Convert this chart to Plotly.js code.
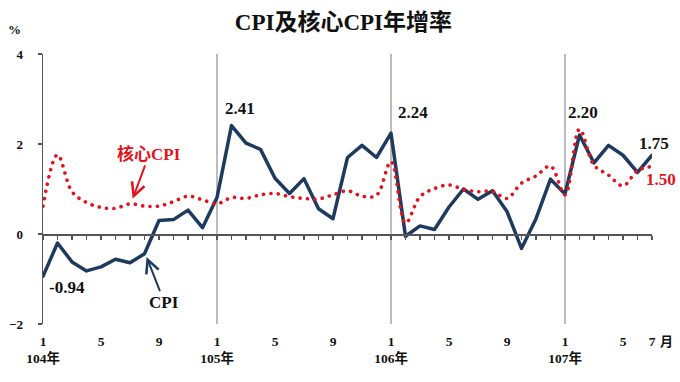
<!DOCTYPE html>
<html>
<head>
<meta charset="utf-8">
<script src="https://cdn.plot.ly/plotly-3.0.1.min.js"></script>
<style>
html,body{margin:0;padding:0;background:#fff;}
#chart{width:680px;height:382px;}
</style>
</head>
<body>
<div id="chart"></div>
<script>
// ---- data ----
const monthIndex = [...Array(43).keys()];
const tickPos = [0,4,8,12,16,20,24,28,32,36,40,42];
const tickLabels = ["1<br>104年","5","9","1<br>105年","5","9","1<br>106年","5","9","1<br>107年","5","7"];
const yearStarts = [12,24,36];
const cpi = [-0.94,-0.20,-0.62,-0.82,-0.73,-0.56,-0.64,-0.44,0.30,0.32,0.53,0.14,
             0.81,2.41,2.02,1.88,1.24,0.90,1.23,0.56,0.34,1.70,1.97,1.70,
             2.24,-0.05,0.18,0.10,0.60,1.00,0.77,0.96,0.50,-0.32,0.34,1.22,
             0.89,2.20,1.58,1.97,1.75,1.37,1.75];
const core = [0.62,1.76,0.94,0.70,0.59,0.57,0.67,0.62,0.62,0.72,0.84,0.76,
              0.67,0.81,0.79,0.87,0.90,0.83,0.79,0.78,0.87,0.96,0.84,0.86,
              1.61,0.24,0.83,1.01,1.09,0.99,0.94,0.95,0.79,1.13,1.29,1.51,
              0.87,2.33,1.53,1.31,1.07,1.41,1.50];

const NAVY = '#1f3a5f';
const RED = '#e4131b';
const SERIF = '"Liberation Serif", "Times New Roman", "Noto Sans CJK TC", serif';

const traces = [
  {x: monthIndex, y: cpi, type:'scatter', mode:'lines', xaxis:'x', yaxis:'y',
   line:{color:NAVY, width:3.5}, hoverinfo:'skip', showlegend:false},
  {x: monthIndex, y: core, type:'scatter', mode:'lines', xaxis:'x2', yaxis:'y',
   line:{color:RED, width:3.6, dash:'0.1px,7.3px', shape:'spline', smoothing:1}, hoverinfo:'skip', showlegend:false}
];

const labelFont = {family:SERIF, size:17, color:'#111', weight:'bold'};
function valAnn(x, y, v, color, ref){
  return {x:x, y:y, xref:ref||'x', yref:ref||'y', text:v.toFixed(2), showarrow:false,
          font:Object.assign({}, labelFont, color?{color:color}:{}), xanchor:'center', yanchor:'middle'};
}

const annotations = [
  valAnn(13.6, 2.78, cpi[13]),
  valAnn(25.5, 2.69, cpi[24]),
  valAnn(37.25, 2.69, cpi[37]),
  valAnn(1.0033, 0.670, cpi[42], null, 'paper'),
  valAnn(1.0148, 0.537, core[42], RED, 'paper'),
  valAnn(1.68, -1.18, cpi[0]),
  {x:7.12, y:-0.49, xref:'x', yref:'y', text:'CPI', showarrow:true, ax:18, ay:46,
   arrowhead:5, arrowsize:1.3, arrowwidth:2, arrowcolor:NAVY, standoff:1,
   font:{family:SERIF, size:17, color:'#111', weight:'bold'}},
  {x:6.16, y:0.76, xref:'x', yref:'y', text:'核心CPI', showarrow:true, ax:17, ay:-46,
   arrowhead:5, arrowsize:1.3, arrowwidth:2, arrowcolor:RED, standoff:1,
   font:{family:SERIF, size:17, color:RED, weight:'bold'}},
  {x:-0.046, y:1.089, xref:'paper', yref:'paper', text:'%', showarrow:false,
   xanchor:'center', yanchor:'middle',
   font:{family:SERIF, size:13, color:'#111', weight:'bold'}},
  {x:1.0246, y:-0.063, xref:'paper', yref:'paper', text:'月', showarrow:false,
   xanchor:'center', yanchor:'middle',
   font:{family:SERIF, size:13, color:'#111', weight:'bold'}}
];

const shapes = yearStarts.map(m => ({type:'line', xref:'x', yref:'paper', x0:m, x1:m, y0:0, y1:1,
  line:{color:'#a6a6a6', width:1.5}, layer:'below'}));

const layout = {
  width:680, height:382,
  margin:{l:43, r:28, t:54, b:58},
  paper_bgcolor:'#fff', plot_bgcolor:'#fff',
  title:{text:'CPI及核心CPI年增率', x:0.505, xref:'container', y:0.942, yref:'container', yanchor:'middle',
         font:{family:SERIF, size:23, color:'#111', weight:'bold'}},
  xaxis:{range:[0,42], tickvals:tickPos, ticktext:tickLabels, ticks:'', showline:false,
         showgrid:false, zeroline:false, ticklabelstandoff:7,
         tickfont:{family:SERIF, size:13.5, color:'#111', weight:'bold'}},
  xaxis2:{range:[0,42], overlaying:'x', matches:'x', anchor:'free', position:1/3,
          showline:true, linecolor:'#555', linewidth:1.5, ticks:'outside', ticklen:4, tickwidth:1.2,
          tickcolor:'#555', tickmode:'linear', tick0:0, dtick:1, showticklabels:false,
          showgrid:false, zeroline:false},
  yaxis:{range:[-2,4], tickvals:[-2,0,2,4], ticks:'outside', ticklen:4, tickwidth:1.2, tickcolor:'#555',
         showline:true, linecolor:'#555', linewidth:1.5, showgrid:false, zeroline:false,
         ticklabelstandoff:12, tickfont:{family:SERIF, size:13, color:'#111', weight:'bold'}},
  annotations:annotations,
  shapes:shapes,
  showlegend:false
};

Plotly.newPlot('chart', traces, layout, {staticPlot:true}).then(gd => {
  gd.querySelectorAll('path.js-line').forEach(p => {
    p.style.strokeLinecap = 'round';
    p.style.strokeLinejoin = 'round';
  });
});
</script>
</body>
</html>
